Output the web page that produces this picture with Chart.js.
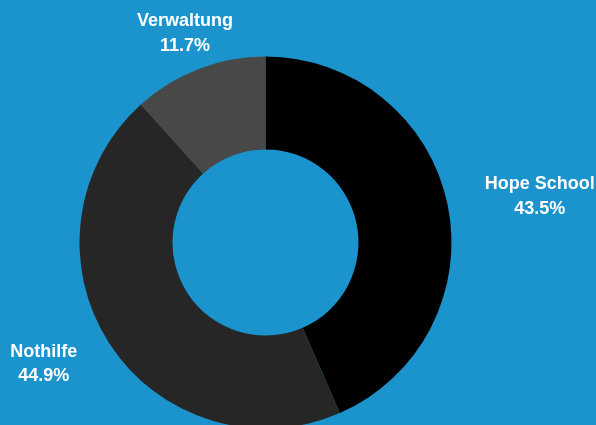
<!DOCTYPE html>
<html>
<head>
<meta charset="utf-8">
<style>
    html, body { margin: 0; padding: 0; background: #1b93cd; }
    #chart { display: block; }
</style>
<script src="https://cdn.jsdelivr.net/npm/chart.js@4.4.1/dist/chart.umd.min.js"></script>
</head>
<body>
<canvas id="chart" width="596" height="425"></canvas>
<script>
const categories = ['Hope School', 'Nothilfe', 'Verwaltung'];
const shares = [43.5, 44.9, 11.7];
const sliceColors = ['#000000', '#262626', '#484848'];

// labels outside the ring: two lines, name + percent
const outsideLabels = {
    id: 'outsideLabels',
    afterDatasetsDraw(chart) {
        const ctx = chart.ctx;
        const meta = chart.getDatasetMeta(0);
        const lineGap = 12.3;
        ctx.save();
        ctx.fillStyle = '#ffffff';
        ctx.font = 'bold 18px "Liberation Sans", Arial, sans-serif';
        ctx.textBaseline = 'middle';
        meta.data.forEach((arc, i) => {
            const p = arc.getProps(['x', 'y', 'startAngle', 'endAngle', 'outerRadius'], true);
            const mid = (p.startAngle + p.endAngle) / 2;
            const dx = Math.cos(mid), dy = Math.sin(mid);
            const dist = p.outerRadius + 38;
            const px = p.x + dx * dist;
            const py = p.y + dy * dist;
            const lines = [categories[i], shares[i].toFixed(1) + '%'];
            const w = Math.max(...lines.map(t => ctx.measureText(t).width));
            let cx = px;
            if (dx > 0.5) cx = px + w / 2;
            else if (dx < -0.5) cx = px - w / 2;
            ctx.textAlign = 'center';
            ctx.fillText(lines[0], cx, py - lineGap);
            ctx.fillText(lines[1], cx, py + lineGap);
        });
        ctx.restore();
    }
};

new Chart(document.getElementById('chart'), {
    type: 'doughnut',
    data: {
        labels: categories,
        datasets: [{
            data: shares,
            backgroundColor: sliceColors,
            borderWidth: 0,
            clip: false
        }]
    },
    options: {
        responsive: false,
        animation: false,
        cutout: '50%',
        radius: 186,
        layout: {
            padding: { left: 80, right: 145, top: 60, bottom: 0 }
        },
        plugins: {
            legend: { display: false },
            tooltip: { enabled: false }
        }
    },
    plugins: [outsideLabels]
});
</script>
</body>
</html>
